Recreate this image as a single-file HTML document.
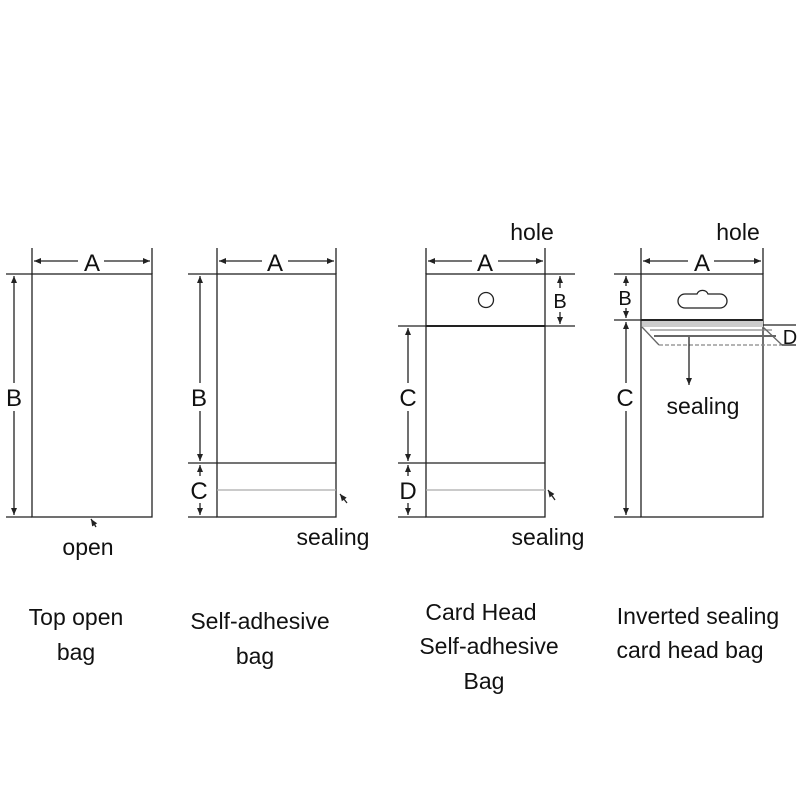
<!DOCTYPE html><html><head><style>body{margin:0;background:#fff}svg{display:block}text{font-family:"Liberation Sans","DejaVu Sans",sans-serif;fill:#111}</style></head><body>
<svg width="800" height="800" viewBox="0 0 800 800" xmlns="http://www.w3.org/2000/svg">
<defs><marker id="ar" markerWidth="8" markerHeight="8" refX="7" refY="4" orient="auto-start-reverse" markerUnits="userSpaceOnUse"><path d="M0,1 L7,4 L0,7 Z" fill="#222"/></marker></defs>
<g stroke="#222" stroke-width="1.3" fill="none">
<rect x="32" y="274" width="120" height="243"/>
<line x1="32" y1="248" x2="32" y2="274"/><line x1="152" y1="248" x2="152" y2="274"/>
<line x1="34" y1="261" x2="78" y2="261" marker-start="url(#ar)"/><line x1="104" y1="261" x2="150" y2="261" marker-end="url(#ar)"/>
<line x1="6" y1="274" x2="32" y2="274"/><line x1="6" y1="517" x2="32" y2="517"/>
<line x1="14" y1="276" x2="14" y2="383" marker-start="url(#ar)"/><line x1="14" y1="411" x2="14" y2="515" marker-end="url(#ar)"/>
<line x1="96" y1="527" x2="91" y2="519" marker-end="url(#ar)"/>
<rect x="217" y="274" width="119" height="243"/>
<line x1="217" y1="463" x2="336" y2="463"/>
<line x1="217" y1="490" x2="336" y2="490" stroke="#aaa"/>
<line x1="217" y1="248" x2="217" y2="274"/><line x1="336" y1="248" x2="336" y2="274"/>
<line x1="219" y1="261" x2="262" y2="261" marker-start="url(#ar)"/><line x1="288" y1="261" x2="334" y2="261" marker-end="url(#ar)"/>
<line x1="188" y1="274" x2="217" y2="274"/><line x1="188" y1="463" x2="217" y2="463"/><line x1="188" y1="517" x2="217" y2="517"/>
<line x1="200" y1="276" x2="200" y2="383" marker-start="url(#ar)"/><line x1="200" y1="411" x2="200" y2="461" marker-end="url(#ar)"/>
<line x1="200" y1="465" x2="200" y2="476" marker-start="url(#ar)"/><line x1="200" y1="503" x2="200" y2="515" marker-end="url(#ar)"/>
<line x1="347" y1="503" x2="340" y2="494" marker-end="url(#ar)"/>
<rect x="426" y="274" width="119" height="243"/>
<line x1="426" y1="326" x2="545" y2="326" stroke-width="2"/>
<circle cx="486" cy="300" r="7.5"/>
<line x1="426" y1="463" x2="545" y2="463"/>
<line x1="426" y1="490" x2="545" y2="490" stroke="#aaa"/>
<line x1="426" y1="248" x2="426" y2="274"/><line x1="545" y1="248" x2="545" y2="274"/>
<line x1="428" y1="261" x2="472" y2="261" marker-start="url(#ar)"/><line x1="498" y1="261" x2="543" y2="261" marker-end="url(#ar)"/>
<line x1="545" y1="274" x2="575" y2="274"/><line x1="545" y1="326" x2="575" y2="326"/>
<line x1="560" y1="276" x2="560" y2="288" marker-start="url(#ar)"/><line x1="560" y1="312" x2="560" y2="324" marker-end="url(#ar)"/>
<line x1="398" y1="326" x2="426" y2="326"/><line x1="398" y1="463" x2="426" y2="463"/><line x1="398" y1="517" x2="426" y2="517"/>
<line x1="408" y1="328" x2="408" y2="383" marker-start="url(#ar)"/><line x1="408" y1="411" x2="408" y2="461" marker-end="url(#ar)"/>
<line x1="408" y1="465" x2="408" y2="476" marker-start="url(#ar)"/><line x1="408" y1="503" x2="408" y2="515" marker-end="url(#ar)"/>
<line x1="555" y1="500" x2="548" y2="490" marker-end="url(#ar)"/>
<rect x="641" y="274" width="122" height="243"/>
<path d="M685,294 h12 a6,6 0 0 1 11,0 h12 a7,7 0 0 1 0,14 h-35 a7,7 0 0 1 0,-14 z"/>
<line x1="641" y1="320" x2="763" y2="320" stroke-width="2"/>
<rect x="642" y="321" width="121" height="6" fill="#ccc" stroke="none"/>
<line x1="642" y1="327" x2="659" y2="345" stroke="#666"/>
<line x1="650" y1="330" x2="772" y2="330" stroke="#888"/>
<line x1="654" y1="336" x2="776" y2="336" stroke="#666" stroke-width="2"/>
<line x1="659" y1="345" x2="782" y2="345" stroke="#888" stroke-dasharray="4,2"/>
<line x1="763" y1="327" x2="782" y2="345" stroke="#666"/>
<line x1="763" y1="325" x2="796" y2="325"/><line x1="782" y1="345" x2="796" y2="345"/>
<line x1="641" y1="248" x2="641" y2="274"/><line x1="763" y1="248" x2="763" y2="274"/>
<line x1="643" y1="261" x2="688" y2="261" marker-start="url(#ar)"/><line x1="714" y1="261" x2="761" y2="261" marker-end="url(#ar)"/>
<line x1="614" y1="274" x2="641" y2="274"/><line x1="614" y1="320" x2="641" y2="320"/><line x1="614" y1="517" x2="641" y2="517"/>
<line x1="626" y1="276" x2="626" y2="286" marker-start="url(#ar)"/><line x1="626" y1="308" x2="626" y2="318" marker-end="url(#ar)"/>
<line x1="626" y1="322" x2="626" y2="383" marker-start="url(#ar)"/><line x1="626" y1="411" x2="626" y2="515" marker-end="url(#ar)"/>
<line x1="689" y1="337" x2="689" y2="385" marker-end="url(#ar)"/>
</g>
<g font-size="24" text-anchor="middle">
<text x="92" y="271">A</text><text x="14" y="406">B</text>
<text x="275" y="271">A</text><text x="199" y="406">B</text><text x="199" y="499">C</text>
<text x="485" y="271">A</text><text x="408" y="406">C</text><text x="408" y="499">D</text>
<text x="702" y="271">A</text><text x="625" y="406">C</text>
</g>
<g font-size="20" text-anchor="middle"><text x="560" y="308">B</text><text x="625" y="305">B</text><text x="790" y="344">D</text></g>
<g font-size="23" text-anchor="middle">
<text x="532" y="240">hole</text><text x="738" y="240">hole</text>
<text x="88" y="555">open</text><text x="333" y="545">sealing</text><text x="548" y="545">sealing</text><text x="703" y="414">sealing</text>
<text x="76" y="625">Top open</text><text x="76" y="660">bag</text>
<text x="260" y="629">Self-adhesive</text><text x="255" y="664">bag</text>
<text x="481" y="620">Card Head</text><text x="489" y="654">Self-adhesive</text><text x="484" y="689">Bag</text>
<text x="698" y="624">Inverted sealing</text><text x="690" y="658">card head bag</text>
</g>
</svg></body></html>
